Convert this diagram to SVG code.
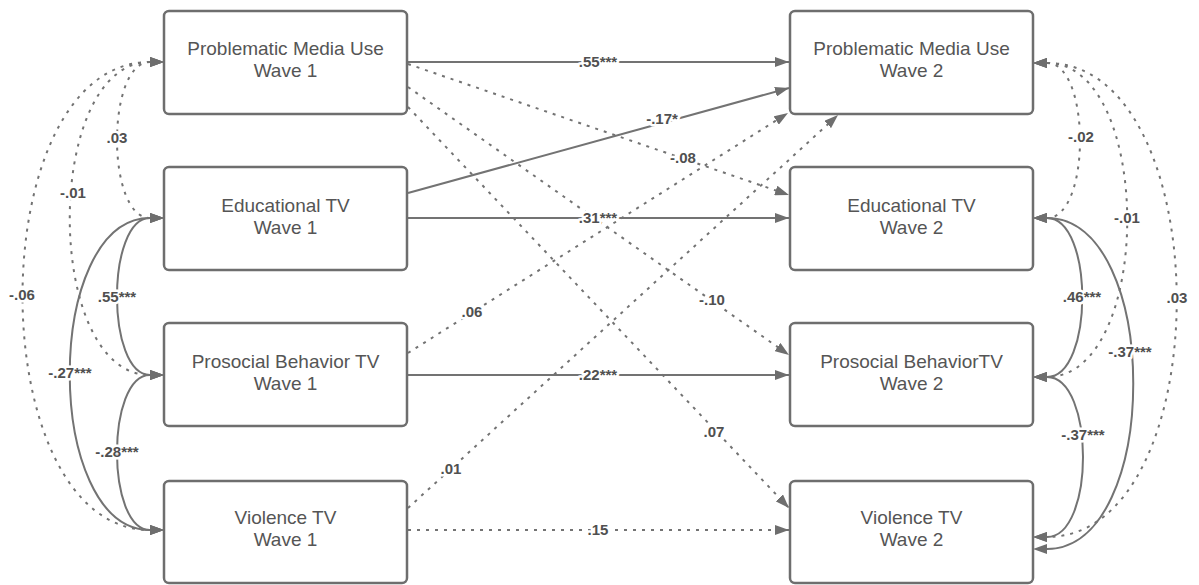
<svg xmlns="http://www.w3.org/2000/svg" width="1199" height="585" viewBox="0 0 1199 585">
<style>
.box{fill:#fff;stroke:#6e6e6e;stroke-width:2.5}
.nt{font-family:"Liberation Sans",Arial,sans-serif;font-size:19px;fill:#555;text-anchor:middle}
.ln{fill:none;stroke:#737373;stroke-width:2}
.dt{fill:none;stroke:#737373;stroke-width:2;stroke-dasharray:3 6}
.lbl{font-family:"Liberation Sans",Arial,sans-serif;font-size:15px;font-weight:bold;fill:#505050;text-anchor:middle;stroke:#fff;stroke-width:5px;stroke-linejoin:round;paint-order:stroke}
.ah{fill:#6e6e6e}
</style>
<defs>
<marker id="ah" viewBox="0 0 14 10" refX="14" refY="5" markerWidth="14" markerHeight="10" markerUnits="userSpaceOnUse" orient="auto"><path class="ah" d="M0,0 L14,5 L0,10 z"/></marker>
<marker id="toR" viewBox="0 0 14 10" refX="0" refY="5" markerWidth="14" markerHeight="10" markerUnits="userSpaceOnUse" orient="0"><path class="ah" d="M0,0 L14,5 L0,10 z"/></marker>
<marker id="toL" viewBox="0 0 14 10" refX="14" refY="5" markerWidth="14" markerHeight="10" markerUnits="userSpaceOnUse" orient="0"><path class="ah" d="M14,0 L0,5 L14,10 z"/></marker>
</defs>

<g id="connectors">
<!-- cross-lagged / autoregressive paths -->
<path class="ln" d="M408,62 L789,62" marker-end="url(#ah)"/>
<path class="ln" d="M408,193 L789,88" marker-end="url(#ah)"/>
<path class="dt" d="M408,64 L789,195" marker-end="url(#ah)"/>
<path class="dt" d="M408,87 L789,355" marker-end="url(#ah)"/>
<path class="dt" d="M408,107 L789,508" marker-end="url(#ah)"/>
<path class="ln" d="M408,218 L789,218" marker-end="url(#ah)"/>
<path class="dt" d="M408,353 L788,113" marker-end="url(#ah)"/>
<path class="ln" d="M408,375 L789,375" marker-end="url(#ah)"/>
<path class="dt" d="M408,508 L838,115" marker-end="url(#ah)"/>
<path class="dt" d="M408,530 L789,530" marker-end="url(#ah)"/>

<!-- wave 1 covariances -->
<path class="dt" d="M150,62 C106,62 106,218 150,218" marker-start="url(#toR)" marker-end="url(#toR)"/>
<path class="dt" d="M150,62 C43,62 43,375 150,375" marker-start="url(#toR)" marker-end="url(#toR)"/>
<path class="dt" d="M150,62 C-20,62 -20,530 150,530" marker-start="url(#toR)" marker-end="url(#toR)"/>
<path class="ln" d="M150,218 C106,218 106,375 150,375" marker-start="url(#toR)" marker-end="url(#toR)"/>
<path class="ln" d="M150,218 C43,218 43,530 150,530" marker-start="url(#toR)" marker-end="url(#toR)"/>
<path class="ln" d="M150,375 C106,375 106,530 150,530" marker-start="url(#toR)" marker-end="url(#toR)"/>

<!-- wave 2 covariances -->
<path class="dt" d="M1047,63 C1091,63 1091,218 1047,218" marker-start="url(#toL)" marker-end="url(#toL)"/>
<path class="dt" d="M1047,63 C1154,63 1154,377 1047,377" marker-start="url(#toL)" marker-end="url(#toL)"/>
<path class="dt" d="M1047,63 C1220,63 1220,537 1047,537" marker-start="url(#toL)" marker-end="url(#toL)"/>
<path class="ln" d="M1047,218 C1094,218 1094,377 1047,377" marker-start="url(#toL)" marker-end="url(#toL)"/>
<path class="ln" d="M1047,218 C1162,218 1162,549 1047,549" marker-start="url(#toL)" marker-end="url(#toL)"/>
<path class="ln" d="M1047,377 C1095,377 1095,537 1047,537" marker-start="url(#toL)" marker-end="url(#toL)"/>

<!-- labels -->
<text class="lbl" x="598" y="67">.55***</text>
<text class="lbl" x="662" y="124">-.17*</text>
<text class="lbl" x="683" y="163">-.08</text>
<text class="lbl" x="598" y="223">.31***</text>
<text class="lbl" x="712" y="305">-.10</text>
<text class="lbl" x="472" y="317">.06</text>
<text class="lbl" x="598" y="380">.22***</text>
<text class="lbl" x="714" y="437">.07</text>
<text class="lbl" x="451" y="474">.01</text>
<text class="lbl" x="598" y="535">.15</text>

<text class="lbl" x="117" y="143">.03</text>
<text class="lbl" x="73" y="198">-.01</text>
<text class="lbl" x="22" y="300">-.06</text>
<text class="lbl" x="117" y="302">.55***</text>
<text class="lbl" x="70" y="378">-.27***</text>
<text class="lbl" x="117" y="457">-.28***</text>

<text class="lbl" x="1081" y="142">-.02</text>
<text class="lbl" x="1127" y="223">-.01</text>
<text class="lbl" x="1177" y="303">.03</text>
<text class="lbl" x="1082" y="302">.46***</text>
<text class="lbl" x="1130" y="357">-.37***</text>
<text class="lbl" x="1083" y="440">-.37***</text>
</g>

<g id="pmu1"><rect class="box" x="164" y="11" width="243" height="103" rx="5"/><text class="nt" x="285.5" y="55">Problematic Media Use</text><text class="nt" x="285.5" y="77">Wave 1</text></g>
<g id="edtv1"><rect class="box" x="164" y="167" width="243" height="103" rx="5"/><text class="nt" x="285.5" y="212">Educational TV</text><text class="nt" x="285.5" y="234">Wave 1</text></g>
<g id="prosocial1"><rect class="box" x="164" y="323" width="243" height="103" rx="5"/><text class="nt" x="285.5" y="368">Prosocial Behavior TV</text><text class="nt" x="285.5" y="390">Wave 1</text></g>
<g id="violence1"><rect class="box" x="164" y="481" width="243" height="102" rx="5"/><text class="nt" x="285.5" y="524">Violence TV</text><text class="nt" x="285.5" y="546">Wave 1</text></g>

<g id="pmu2"><rect class="box" x="790" y="11" width="243" height="103" rx="5"/><text class="nt" x="911.5" y="55">Problematic Media Use</text><text class="nt" x="911.5" y="77">Wave 2</text></g>
<g id="edtv2"><rect class="box" x="790" y="167" width="243" height="103" rx="5"/><text class="nt" x="911.5" y="212">Educational TV</text><text class="nt" x="911.5" y="234">Wave 2</text></g>
<g id="prosocial2"><rect class="box" x="790" y="323" width="243" height="103" rx="5"/><text class="nt" x="911.5" y="368">Prosocial BehaviorTV</text><text class="nt" x="911.5" y="390">Wave 2</text></g>
<g id="violence2"><rect class="box" x="790" y="481" width="243" height="102" rx="5"/><text class="nt" x="911.5" y="524">Violence TV</text><text class="nt" x="911.5" y="546">Wave 2</text></g>
</svg>
